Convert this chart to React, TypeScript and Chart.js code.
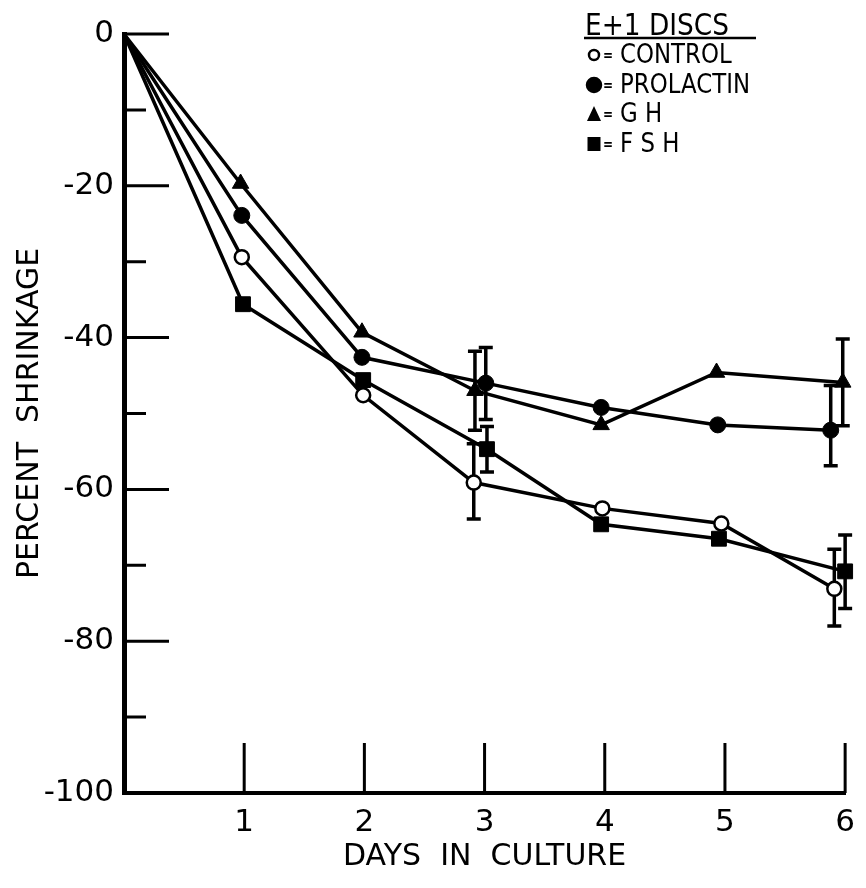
import React, { useEffect, useRef } from 'react';
import { Chart, registerables } from 'chart.js';

Chart.register(...registerables);

// ---- data ----
const dayLabels = [0, 1, 2, 3, 4, 5, 6];

const controlDays = [0, 0.98, 1.99, 2.91, 3.98, 4.97, 5.91];
const controlValues = [0, -29.4, -47.6, -59.1, -62.5, -64.5, -73.1];
const controlErrHigh = [null, null, null, -54.0, null, null, -67.9];
const controlErrLow = [null, null, null, -63.9, null, null, -78.0];

const prolactinDays = [0, 0.98, 1.98, 3.01, 3.97, 4.94, 5.88];
const prolactinValues = [0, -23.9, -42.6, -46.0, -49.2, -51.5, -52.2];
const prolactinErrHigh = [null, null, null, -41.3, null, null, -46.3];
const prolactinErrLow = [null, null, null, -50.8, null, null, -56.9];

const ghDays = [0, 0.97, 1.98, 2.92, 3.97, 4.93, 5.98];
const ghValues = [0, -19.7, -39.3, -47.0, -51.5, -44.6, -45.9];
const ghErrHigh = [null, null, null, -41.8, null, null, -40.2];
const ghErrLow = [null, null, null, -52.2, null, null, -51.6];

const fshDays = [0, 0.99, 1.99, 3.02, 3.97, 4.95, 6.0];
const fshValues = [0, -35.6, -45.6, -54.7, -64.6, -66.5, -70.8];
const fshErrHigh = [null, null, null, -51.7, null, null, -66.0];
const fshErrLow = [null, null, null, -57.7, null, null, -75.7];

const legendTitle = 'E+1 DISCS';
const seriesNames = ['CONTROL', 'PROLACTIN', 'G H', 'F S H'];
const yTitle = 'PERCENT  SHRINKAGE';
const xTitle = 'DAYS  IN  CULTURE';

const FONT = '"DejaVu Sans", "Liberation Sans", sans-serif';

type Series = {
  name: string;
  days: number[];
  values: number[];
  errHigh: (number | null)[];
  errLow: (number | null)[];
  style: string;
  fill: string;
  radius: number;
};

const series: Series[] = [
  { name: seriesNames[0], days: controlDays, values: controlValues, errHigh: controlErrHigh, errLow: controlErrLow, style: 'circle', fill: '#ffffff', radius: 7 },
  { name: seriesNames[1], days: prolactinDays, values: prolactinValues, errHigh: prolactinErrHigh, errLow: prolactinErrLow, style: 'circle', fill: '#000000', radius: 8 },
  { name: seriesNames[2], days: ghDays, values: ghValues, errHigh: ghErrHigh, errLow: ghErrLow, style: 'triangle', fill: '#000000', radius: 9.5 },
  { name: seriesNames[3], days: fshDays, values: fshValues, errHigh: fshErrHigh, errLow: fshErrLow, style: 'rect', fill: '#000000', radius: 10.5 },
];

const errorBarsPlugin = {
  id: 'errorBars',
  beforeDatasetsDraw(chart: any) {
    const { ctx, scales } = chart;
    const x = scales.x;
    const y = scales.y;
    ctx.save();
    ctx.strokeStyle = '#000';
    ctx.lineWidth = 3.5;
    series.forEach((s) => {
      s.days.forEach((d, i) => {
        const hi = s.errHigh[i];
        const lo = s.errLow[i];
        if (hi == null || lo == null) return;
        const px = x.getPixelForValue(d);
        const pt = y.getPixelForValue(hi);
        const pb = y.getPixelForValue(lo);
        ctx.beginPath();
        ctx.moveTo(px, pt);
        ctx.lineTo(px, pb);
        ctx.moveTo(px - 7, pt);
        ctx.lineTo(px + 7, pt);
        ctx.moveTo(px - 7, pb);
        ctx.lineTo(px + 7, pb);
        ctx.stroke();
      });
    });
    ctx.restore();
  },
};

const tickMarksPlugin = {
  id: 'tickMarks',
  afterDatasetsDraw(chart: any) {
    const { ctx, scales, chartArea } = chart;
    const x = scales.x;
    const y = scales.y;
    ctx.save();
    ctx.strokeStyle = '#000';
    ctx.lineWidth = 3;
    ctx.beginPath();
    y.ticks.forEach((t: any) => {
      if (t.value === -100) return;
      const py = y.getPixelForValue(t.value);
      const len = t.value % 20 === 0 ? 45 : 22;
      ctx.moveTo(chartArea.left, py);
      ctx.lineTo(chartArea.left + len, py);
    });
    x.ticks.forEach((t: any) => {
      if (t.value === 0) return;
      const px = x.getPixelForValue(t.value);
      ctx.moveTo(px, chartArea.bottom);
      ctx.lineTo(px, chartArea.bottom - 50);
    });
    ctx.stroke();
    ctx.restore();
  },
};

function drawMarker(ctx: CanvasRenderingContext2D, s: Series, cx: number, cy: number) {
  ctx.save();
  ctx.fillStyle = s.fill;
  ctx.strokeStyle = '#000';
  ctx.lineWidth = 2.5;
  ctx.beginPath();
  if (s.style === 'circle') {
    const r = s.fill === '#ffffff' ? 5 : 7;
    ctx.arc(cx, cy, r, 0, Math.PI * 2);
    ctx.fill();
    ctx.stroke();
  } else if (s.style === 'triangle') {
    ctx.moveTo(cx, cy - 8);
    ctx.lineTo(cx + 7, cy + 7);
    ctx.lineTo(cx - 7, cy + 7);
    ctx.closePath();
    ctx.fill();
  } else {
    ctx.rect(cx - 6.5, cy - 7, 13, 14);
    ctx.fill();
  }
  ctx.restore();
}

function narrowText(ctx: CanvasRenderingContext2D, text: string, x: number, y: number, sx: number) {
  ctx.save();
  ctx.translate(x, y);
  ctx.scale(sx, 1);
  ctx.fillText(text, 0, 0);
  ctx.restore();
}

const legendPlugin = {
  id: 'customLegend',
  afterDraw(chart: any) {
    const ctx: CanvasRenderingContext2D = chart.ctx;
    ctx.save();
    ctx.fillStyle = '#000';
    ctx.strokeStyle = '#000';
    ctx.textAlign = 'left';
    ctx.textBaseline = 'alphabetic';
    ctx.font = `30px ${FONT}`;
    narrowText(ctx, legendTitle, 585, 35, 0.88);
    ctx.lineWidth = 2.5;
    ctx.beginPath();
    ctx.moveTo(584, 38);
    ctx.lineTo(756, 38);
    ctx.stroke();
    const baselines = [63, 93, 122, 152];
    series.forEach((s, i) => {
      const b = baselines[i];
      drawMarker(ctx, s, 594, b - 8);
      ctx.font = `bold 15px ${FONT}`;
      narrowText(ctx, '=', 603, b - 3, 0.8);
      ctx.font = `26px ${FONT}`;
      narrowText(ctx, s.name, 620, b, 0.88);
    });
    ctx.restore();
  },
};

export default function App() {
  const canvasRef = useRef<HTMLCanvasElement | null>(null);

  useEffect(() => {
    if (!canvasRef.current) return;
    const datasets = series.map((s) => ({
      label: s.name,
      data: s.days.map((d, i) => ({ x: d, y: s.values[i] })),
      borderColor: '#000',
      backgroundColor: s.fill,
      borderWidth: 3.5,
      tension: 0,
      fill: false,
      clip: false as any,
      pointStyle: s.style as any,
      pointRadius: (c: any) => (c.dataIndex === 0 ? 0 : s.radius),
      pointBackgroundColor: s.fill,
      pointBorderColor: '#000',
      pointBorderWidth: s.fill === '#ffffff' ? 2.5 : 1,
    }));

    const chart = new Chart(canvasRef.current, {
      type: 'line',
      data: { datasets },
      options: {
        responsive: false,
        animation: false,
        events: [],
        layout: { padding: { top: 34, right: 16, left: 0, bottom: 0 } },
        plugins: {
          legend: { display: false },
          tooltip: { enabled: false },
        },
        scales: {
          x: {
            type: 'linear',
            min: 0,
            max: 6,
            afterFit: (scale: any) => {
              scale.height = 95;
            },
            afterBuildTicks: (scale: any) => {
              scale.ticks = dayLabels.map((v) => ({ value: v }));
            },
            ticks: {
              stepSize: 1,
              autoSkip: false,
              maxRotation: 0,
              padding: 11,
              color: '#000',
              font: { family: FONT, size: 31 },
              callback: (v: any) => (Number(v) === 0 ? '' : String(v)),
            },
            grid: { display: false, drawTicks: false },
            border: { display: true, color: '#000', width: 4 },
            title: {
              display: true,
              text: xTitle,
              color: '#000',
              font: { family: FONT, size: 30 },
              padding: { top: 0, bottom: 13 },
            },
          },
          y: {
            type: 'linear',
            min: -100,
            max: 0,
            afterFit: (scale: any) => {
              scale.width = 124;
            },
            ticks: {
              stepSize: 10,
              autoSkip: false,
              padding: 10,
              color: '#000',
              font: { family: FONT, size: 31 },
              callback: (v: any) => (Number(v) % 20 === 0 ? String(v) : ''),
            },
            grid: { display: false, drawTicks: false },
            border: { display: true, color: '#000', width: 5 },
            title: {
              display: true,
              text: yTitle,
              color: '#000',
              font: { family: FONT, size: 30 },
              padding: { top: 12, bottom: 0 },
            },
          },
        },
      } as any,
      plugins: [errorBarsPlugin, tickMarksPlugin, legendPlugin],
    });

    return () => {
      chart.destroy();
    };
  }, []);

  return (
    <div style={{ position: 'absolute', left: 0, top: 0, width: 866, height: 888, background: '#fff' }}>
      <canvas ref={canvasRef} width={866} height={888} style={{ display: 'block' }} />
    </div>
  );
}
